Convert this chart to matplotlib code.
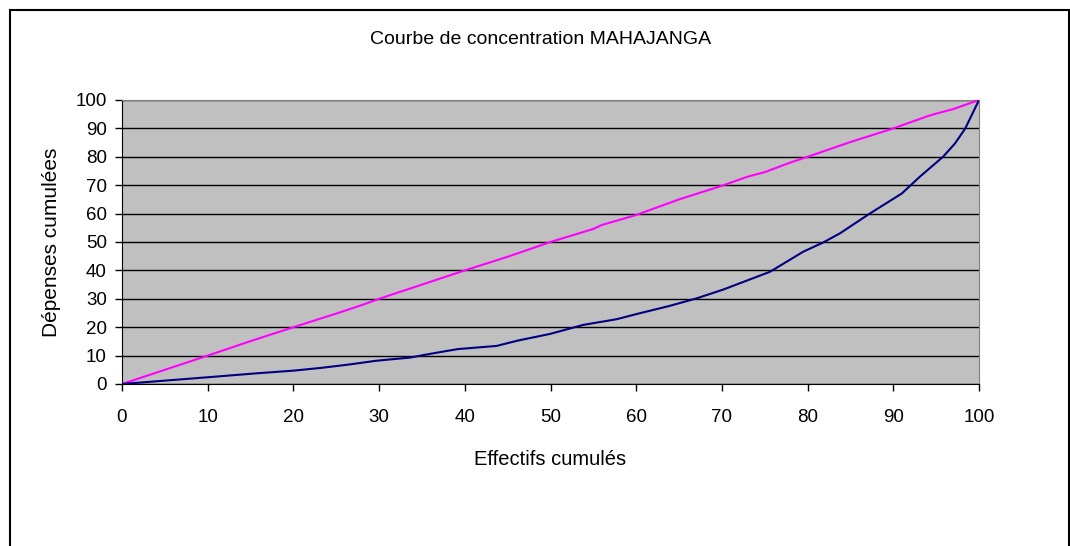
import matplotlib
matplotlib.use("Agg")
import matplotlib.pyplot as plt
from matplotlib.patches import Rectangle

plt.rcParams['font.family'] = ['Liberation Sans', 'DejaVu Sans']

# donnees
x_egalite = [0, 5, 10, 15, 20, 25, 28, 30, 35, 40, 45, 50, 55, 56, 60, 65, 70, 73, 75, 78, 80, 85, 90, 94, 95, 97, 100]
y_egalite = [0, 5, 10, 15.1, 20, 24.8, 27.8, 30, 35, 40, 44.8, 50, 54.6, 56, 59.5, 65, 69.8, 73, 74.6, 78, 80, 85.2, 90, 94.3, 95.2, 96.8, 100]

x_courbe = [0, 9.9, 15.7, 20.0, 23.3, 26.6, 29.7, 33.6, 36.3, 39.2, 43.7, 46.2, 49.9, 53.8, 57.7, 60.4,
            63.9, 67.1, 70.2, 72.9, 75.6, 79.5, 81.8, 83.8, 87.3, 91.0, 93.1, 95.8, 97.2, 98.4, 100]
y_courbe = [0, 2.35, 3.76, 4.7, 5.7, 6.9, 8.2, 9.3, 10.8, 12.3, 13.4, 15.3, 17.6, 20.8, 22.8, 24.9,
            27.5, 30.2, 33.3, 36.4, 39.5, 46.6, 49.8, 53.1, 60.1, 67.1, 73.0, 80.0, 84.7, 90.0, 100]

ticks = list(range(0, 101, 10))

fig = plt.figure(figsize=(10.7, 5.46), dpi=100)
ax = fig.add_axes([122/1070, 1-384/546, 857/1070, 284/546])
ax.set_facecolor('#C0C0C0')

ax.plot(x_egalite, y_egalite, color='#FF00FF', lw=1.5, zorder=3)
ax.plot(x_courbe, y_courbe, color='#000080', lw=1.5, zorder=3)

ax.set_xlim(0, 100)
ax.set_ylim(0, 100)
ax.set_xticks(ticks)
ax.set_yticks(ticks)
ax.yaxis.grid(True, color='black', lw=1)
ax.set_axisbelow(True)
ax.tick_params(axis='x', length=5, width=1, pad=13, labelsize=13.5)
ax.tick_params(axis='y', length=5, width=1, pad=6, labelsize=13.5)

for s in ['left', 'bottom']:
    ax.spines[s].set_color('black')
for s in ['top', 'right']:
    ax.spines[s].set_color('#808080')

ax.set_xlabel('Effectifs cumulés', fontsize=14.5, labelpad=17)
ax.set_ylabel('Dépenses cumulées', fontsize=15, labelpad=10)
fig.text(541/1070, 1-40/546, 'Courbe de concentration MAHAJANGA', fontsize=14,
         ha='center', va='center')

# cadre du graphique
fig.patches.append(Rectangle((10/1070, -0.1), 1059/1070, 1.1 - 10/546, transform=fig.transFigure,
                             fill=False, edgecolor='black', lw=1.5))

fig.savefig('out.png', dpi=100)
